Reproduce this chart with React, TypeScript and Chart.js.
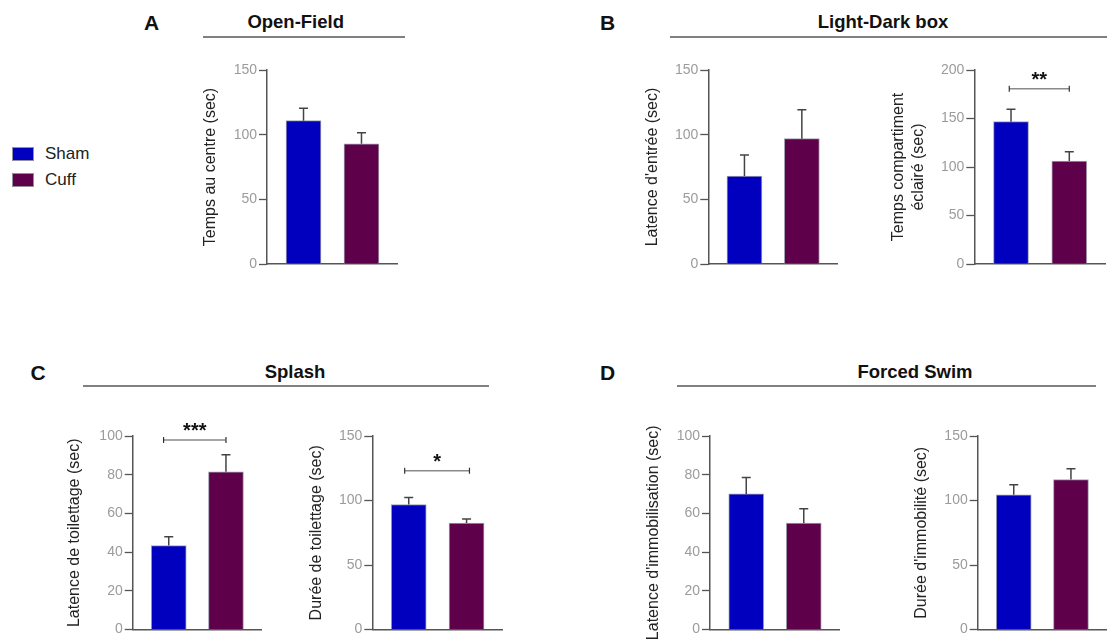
import React, { useEffect, useRef } from "react";
import { Chart, registerables } from "chart.js";

Chart.register(...registerables);

const FONT = "'Liberation Sans', Arial, Helvetica, sans-serif";
Chart.defaults.font.family = FONT;

// ---------- data ----------
const groups = ["Sham", "Cuff"];
const groupColors = ["#0000BE", "#5E004A"];

const openFieldCentre = [110.8, 93.0];
const openFieldCentreErr = [9.6, 8.5];

const ldEntryLatency = [68.0, 96.9];
const ldEntryLatencyErr = [16.3, 22.4];

const ldLightTime = [146.7, 106.2];
const ldLightTimeErr = [12.8, 9.6];

const splashLatency = [43.4, 81.5];
const splashLatencyErr = [4.5, 8.8];

const splashDuration = [96.9, 82.5];
const splashDurationErr = [5.4, 3.1];

const fsLatency = [70.1, 55.0];
const fsLatencyErr = [8.5, 7.4];

const fsDuration = [104.4, 116.2];
const fsDurationErr = [7.9, 8.4];

const ldLightSig = { text: "**", y: 180.7, from: -0.03, to: 1.0 };
const splashLatencySig = { text: "***", y: 97.9, from: -0.09, to: 1.0 };
const splashDurationSig = { text: "*", y: 123.1, from: -0.07, to: 1.05 };

const yTicksA = { max: 150, step: 50 };
const yTicks150 = { max: 150, step: 50 };
const yTicks200 = { max: 200, step: 50 };
const yTicks100 = { max: 100, step: 20 };

// ---------- layout ----------
type Sig = { text: string; y: number; from: number; to: number };
type PanelCfg = {
  id: string;
  axisX: number;
  top: number;
  bottom: number;
  right: number;
  ticks: { max: number; step: number };
  values: number[];
  errors: number[];
  title: string | string[];
  titleDist: number;
  sig?: Sig;
};

const panels: PanelCfg[] = [
  { id: "A1", axisX: 267, top: 70, bottom: 264, right: 398, ticks: yTicksA, values: openFieldCentre, errors: openFieldCentreErr, title: "Temps au centre (sec)", titleDist: 56.3 },
  { id: "B1", axisX: 708.3, top: 70, bottom: 264, right: 838, ticks: yTicks150, values: ldEntryLatency, errors: ldEntryLatencyErr, title: "Latence d'entrée (sec)", titleDist: 55.6 },
  { id: "B2", axisX: 974.3, top: 70, bottom: 264, right: 1106, ticks: yTicks200, values: ldLightTime, errors: ldLightTimeErr, title: ["Temps compartiment", "éclairé (sec)"], titleDist: 76, sig: ldLightSig },
  { id: "C1", axisX: 132.7, top: 436, bottom: 631, right: 262, ticks: yTicks100, values: splashLatency, errors: splashLatencyErr, title: "Latence de toilettage (sec)", titleDist: 57.7, sig: splashLatencySig },
  { id: "C2", axisX: 372.3, top: 436, bottom: 631, right: 503, ticks: yTicks150, values: splashDuration, errors: splashDurationErr, title: "Durée de toilettage (sec)", titleDist: 55.6, sig: splashDurationSig },
  { id: "D1", axisX: 710, top: 436, bottom: 631, right: 840, ticks: yTicks100, values: fsLatency, errors: fsLatencyErr, title: "Latence d'immobilisation (sec)", titleDist: 56.7 },
  { id: "D2", axisX: 977.7, top: 436, bottom: 631, right: 1107, ticks: yTicks150, values: fsDuration, errors: fsDurationErr, title: "Durée d'immobilité (sec)", titleDist: 56 },
];

const AXIS_COLOR = "#555555";
const TICK_COLOR = "#9b9b9b";

function BarPanel({ cfg }: { cfg: PanelCfg }) {
  const ref = useRef<HTMLCanvasElement>(null);
  const L = Math.round(cfg.axisX - 92);
  const yAxisW = cfg.axisX - L;
  const padTop = 20;
  const T = Math.round(cfg.top - padTop);
  const realPadTop = cfg.top - T;
  const bottomH = cfg.bottom > 400 ? 640 - cfg.bottom : 12;
  const H = Math.round(cfg.bottom + bottomH - T);
  const xAxisH = T + H - cfg.bottom;
  const W = Math.round(cfg.right - L);
  const multi = Array.isArray(cfg.title);
  const titleSize = 16;
  const titleLH = multi ? 1.25 : 1.2;
  const titlePad = cfg.axisX - cfg.titleDist - L - (titleSize * titleLH) / 2;

  useEffect(() => {
    const canvas = ref.current!;
    const extras = {
      id: "extras" + cfg.id,
      afterDatasetsDraw(chart: any) {
        const ctx = chart.ctx;
        const xs = chart.scales.x;
        const ys = chart.scales.y;
        ctx.save();
        // error bars
        ctx.strokeStyle = "#444444";
        ctx.lineWidth = 1.5;
        cfg.values.forEach((v, i) => {
          const x = xs.getPixelForValue(i);
          const y0 = ys.getPixelForValue(v);
          const y1 = ys.getPixelForValue(v + cfg.errors[i]);
          ctx.beginPath();
          ctx.moveTo(x, y0);
          ctx.lineTo(x, y1);
          ctx.moveTo(x - 4.5, y1);
          ctx.lineTo(x + 4.5, y1);
          ctx.stroke();
        });
        // significance bracket
        if (cfg.sig) {
          const s = cfg.sig;
          const xa = xs.getPixelForValue(s.from);
          const xb = xs.getPixelForValue(s.to);
          const y = ys.getPixelForValue(s.y);
          ctx.strokeStyle = "#8a8a8a";
          ctx.lineWidth = 1.5;
          ctx.beginPath();
          ctx.moveTo(xa, y);
          ctx.lineTo(xb, y);
          ctx.stroke();
          ctx.strokeStyle = "#333333";
          ctx.lineWidth = 1.2;
          ctx.beginPath();
          ctx.moveTo(xa, y - 3);
          ctx.lineTo(xa, y + 3);
          ctx.moveTo(xb, y - 3);
          ctx.lineTo(xb, y + 3);
          ctx.stroke();
          ctx.fillStyle = "#111111";
          ctx.font = "bold 20px " + FONT;
          ctx.textAlign = "center";
          ctx.textBaseline = "alphabetic";
          ctx.fillText(s.text, (xa + xb) / 2, y - 3);
        }
        ctx.restore();
      },
    };

    const chart = new Chart(canvas, {
      type: "bar",
      data: {
        datasets: [
          {
            label: cfg.id,
            data: cfg.values.map((v, i) => ({ x: i, y: v })),
            backgroundColor: groupColors,
            borderColor: "#a0a0b0",
            borderWidth: 1,
            barThickness: 35,
          },
        ],
      },
      options: {
        responsive: false,
        animation: false,
        events: [],
        layout: { padding: { top: realPadTop, left: 0, right: 0, bottom: 0 } },
        plugins: { legend: { display: false }, tooltip: { enabled: false }, title: { display: false } },
        scales: {
          x: {
            type: "linear",
            min: -0.63,
            max: 1.63,
            offset: false,
            grid: { display: false },
            ticks: { display: false },
            border: { display: true, color: AXIS_COLOR, width: 1.5 },
            afterFit: (s: any) => {
              s.height = xAxisH;
            },
          },
          y: {
            type: "linear",
            min: 0,
            max: cfg.ticks.max,
            ticks: {
              stepSize: cfg.ticks.step,
              color: TICK_COLOR,
              padding: 2,
              font: { size: 14, family: FONT },
            },
            grid: {
              display: true,
              drawOnChartArea: false,
              drawTicks: true,
              tickLength: 8,
              tickColor: AXIS_COLOR,
              tickWidth: 1.3,
            },
            border: { display: true, color: AXIS_COLOR, width: 1.5 },
            title: {
              display: true,
              text: cfg.title as any,
              color: "#222222",
              font: { size: titleSize, family: FONT, lineHeight: titleLH },
              padding: { top: titlePad, bottom: 0 },
            },
            afterFit: (s: any) => {
              s.width = yAxisW;
            },
          },
        },
      } as any,
      plugins: [extras],
    });
    return () => chart.destroy();
  }, []);

  return (
    <canvas
      ref={ref}
      width={W}
      height={H}
      style={{ position: "absolute", left: L, top: T, width: W, height: H }}
    />
  );
}

const headings = [
  { letter: "A", lx: 144, title: "Open-Field", cx: 295.7, x1: 203, x2: 405, baseline: 29, lineY: 37 },
  { letter: "B", lx: 600, title: "Light-Dark box", cx: 883, x1: 670, x2: 1107, baseline: 29, lineY: 37 },
  { letter: "C", lx: 30.5, title: "Splash", cx: 295, x1: 83, x2: 489, baseline: 379, lineY: 386 },
  { letter: "D", lx: 600, title: "Forced Swim", cx: 915, x1: 677, x2: 1096, baseline: 379, lineY: 386 },
];

function textTop(baseline: number, size: number) {
  return baseline - 0.8465 * size;
}

export default function App() {
  const titleSize = 18.5;
  const letterSize = 21;
  const legendSize = 17;
  return (
    <div
      style={{
        position: "absolute",
        left: 0,
        top: 0,
        width: 1107,
        height: 640,
        overflow: "hidden",
        background: "#ffffff",
        fontFamily: FONT,
      }}
    >
      {headings.map((h) => (
        <React.Fragment key={h.letter}>
          <div
            style={{
              position: "absolute",
              left: h.lx,
              top: textTop(h.baseline + 1, letterSize),
              fontSize: letterSize,
              lineHeight: 1,
              fontWeight: "bold",
              color: "#111",
              whiteSpace: "nowrap",
            }}
          >
            {h.letter}
          </div>
          <div
            style={{
              position: "absolute",
              left: h.cx,
              top: textTop(h.baseline, titleSize),
              transform: "translateX(-50%)",
              fontSize: titleSize,
              lineHeight: 1,
              fontWeight: "bold",
              color: "#111",
              whiteSpace: "nowrap",
            }}
          >
            {h.title}
          </div>
          <div
            style={{
              position: "absolute",
              left: h.x1,
              top: h.lineY - 1,
              width: h.x2 - h.x1,
              height: 2,
              background: "#808080",
            }}
          />
        </React.Fragment>
      ))}

      {groups.map((g, i) => (
        <React.Fragment key={g}>
          <div
            style={{
              position: "absolute",
              left: 12,
              top: 147 + i * 26,
              width: 20,
              height: 12,
              background: groupColors[i],
              border: "1px solid #9090a0",
            }}
          />
          <div
            style={{
              position: "absolute",
              left: 45,
              top: textTop(159.6 + i * 26, legendSize),
              fontSize: legendSize,
              lineHeight: 1,
              color: "#222",
              whiteSpace: "nowrap",
            }}
          >
            {g}
          </div>
        </React.Fragment>
      ))}

      {panels.map((p) => (
        <BarPanel key={p.id} cfg={p} />
      ))}
    </div>
  );
}
